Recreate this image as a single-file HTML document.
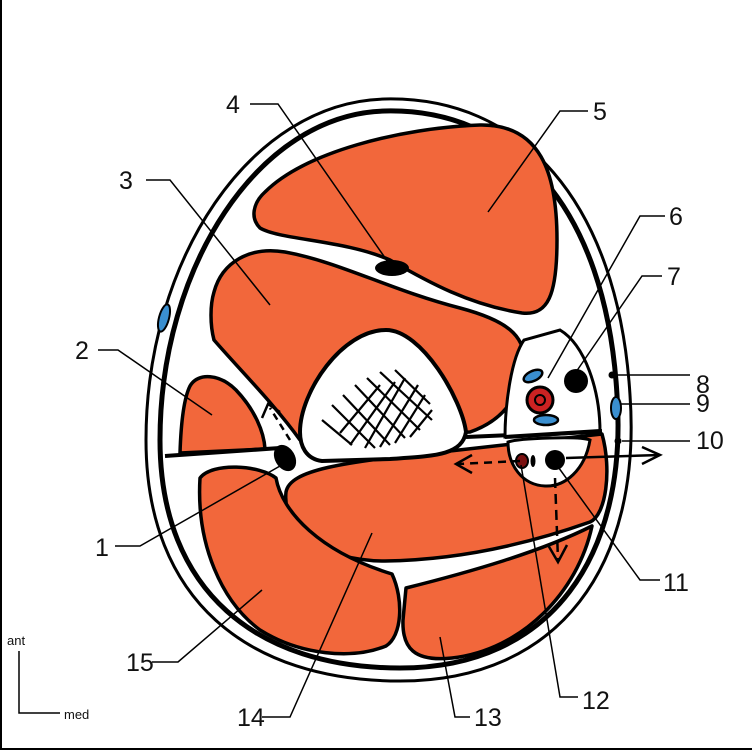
<!DOCTYPE html>
<html><head><meta charset="utf-8"><style>
html,body{margin:0;padding:0;background:#fff}
svg{display:block}
text{font-family:"Liberation Sans",sans-serif;fill:#111}
</style></head><body>
<svg width="752" height="752" viewBox="0 0 752 752" xmlns="http://www.w3.org/2000/svg">
<rect x="0" y="0" width="752" height="752" fill="#fff"/>
<line x1="1" y1="0" x2="1" y2="750" stroke="#000" stroke-width="2"/>
<line x1="0" y1="749" x2="752" y2="749" stroke="#000" stroke-width="2"/>

<path d="M385,99 C520,96 618,200 630,395 C642,565 560,681 400,681 C248,681 146,600 146,440 C146,260 250,102 385,99 Z" fill="#fff" stroke="#000" stroke-width="3"/>
<path d="M385,111 C512,108 606,205 617,395 C628,555 552,668 400,668 C258,668 160,592 160,440 C160,268 258,114 385,111 Z" fill="#fff" stroke="#000" stroke-width="5"/>

<g fill="#f2673b" stroke="#000" stroke-width="3.5" stroke-linejoin="round">
<!-- 5 -->
<path d="M265,192 C305,152 400,128 480,125 C540,124 557,172 557,240 C557,295 548,316 522,313 C470,305 428,282 390,260 C345,240 280,240 260,228 C250,218 253,203 265,192 Z"/>
<!-- 3 -->
<path d="M214,292 C222,262 250,246 285,252 C340,262 390,290 460,308 C505,320 527,335 524,365 C520,395 505,420 470,432 L300,440 C275,405 240,370 214,340 C210,325 210,305 214,292 Z"/>
<!-- 2 -->
<path d="M190,386 C198,372 220,374 236,390 C255,410 264,432 265,449 L180,453 C181,422 184,398 190,386 Z"/>
<!-- 14 -->
<path d="M286,492 C290,470 340,462 450,451 L602,434 C612,470 606,515 590,522 C525,545 455,560 385,561 C322,561 282,530 286,492 Z"/>
<!-- 15 -->
<path d="M200,478 C212,462 260,465 276,478 C282,512 320,552 392,574 C404,600 402,636 386,646 C352,660 300,655 260,630 C222,602 196,545 200,478 Z"/>
<!-- 13 -->
<path d="M406,588 C470,572 540,552 592,526 C578,592 522,650 452,658 C414,662 402,648 403,620 Z"/>
</g>

<path d="M300,432 C300,392 342,330 386,330 C422,330 462,400 466,432 C462,456 432,456 390,459 L322,461 C306,459 300,446 300,432 Z" fill="#fff" stroke="#000" stroke-width="4"/>
<g stroke="#000" stroke-width="2.2">
<line x1="322" y1="420" x2="352" y2="445"/><line x1="332" y1="405" x2="375" y2="448"/><line x1="343" y1="395" x2="390" y2="445"/><line x1="355" y1="385" x2="405" y2="438"/><line x1="367" y1="378" x2="420" y2="430"/><line x1="380" y1="372" x2="432" y2="420"/><line x1="395" y1="370" x2="430" y2="404"/>
<line x1="340" y1="433" x2="380" y2="385"/><line x1="350" y1="445" x2="395" y2="382"/><line x1="365" y1="448" x2="405" y2="378"/><line x1="380" y1="447" x2="418" y2="385"/><line x1="395" y1="443" x2="425" y2="395"/><line x1="410" y1="437" x2="432" y2="410"/>
</g>

<path d="M165,456 L280,448" stroke="#000" stroke-width="4" fill="none"/>
<path d="M466,437 L602,431" stroke="#000" stroke-width="4" fill="none"/>
<path d="M505,437 C505,410 510,360 524,340 L560,330 C585,345 600,390 600,432 Z" fill="#fff" stroke="#000" stroke-width="3"/>
<path d="M508,442 C520,438 580,436 590,440 C585,470 565,487 545,486 C522,485 508,465 508,442 Z" fill="#fff" stroke="#000" stroke-width="3"/>
<path d="M505,437 L600,431" stroke="#000" stroke-width="4"/>

<circle cx="576" cy="381" r="12" fill="#000"/>
<circle cx="540" cy="400" r="13" fill="#c22" stroke="#000" stroke-width="3"/>
<circle cx="540" cy="400" r="5" fill="none" stroke="#000" stroke-width="2"/>
<ellipse cx="533" cy="376" rx="10" ry="5" fill="#3a8fd0" stroke="#000" stroke-width="2.5" transform="rotate(-25 533 376)"/>
<ellipse cx="546" cy="420" rx="12" ry="5" fill="#3a8fd0" stroke="#000" stroke-width="2.5"/>
<ellipse cx="522" cy="461" rx="6" ry="7" fill="#7a1010" stroke="#000" stroke-width="2"/>
<ellipse cx="533" cy="461" rx="2.5" ry="6" fill="#000"/>
<circle cx="555" cy="460" r="10" fill="#000"/>
<ellipse cx="285" cy="458" rx="10" ry="14" fill="#000" transform="rotate(-30 285 458)"/>
<ellipse cx="392" cy="268" rx="17" ry="8" fill="#000"/>
<ellipse cx="164" cy="318" rx="5" ry="14" fill="#3a8fd0" stroke="#000" stroke-width="2" transform="rotate(15 164 318)"/>
<circle cx="612" cy="375" r="3.5" fill="#000"/>
<ellipse cx="616" cy="408" rx="5" ry="11" fill="#3a8fd0" stroke="#000" stroke-width="2"/>
<circle cx="618" cy="441" r="3.5" fill="#000"/>

<g stroke="#000" stroke-width="2.5" fill="none">
<path d="M290,440 L270,408" stroke-dasharray="7,5"/><path d="M262,418 L268,404 L280,412"/>
<path d="M520,461 L458,464" stroke-dasharray="8,6"/><path d="M472,455 L456,464 L472,473"/>
<path d="M566,458 L660,455"/><path d="M642,447 L660,455 L642,464"/>
<path d="M555,478 L558,560" stroke-dasharray="10,6"/><path d="M548,545 L558,562 L567,545"/>
</g>

<g stroke="#000" stroke-width="1.5" fill="none">
<path d="M250,104 L278,104 L388,262"/>
<path d="M588,111 L560,111 L488,212"/>
<path d="M146,180 L170,180 L270,305"/>
<path d="M665,216 L640,216 L548,378"/>
<path d="M662,276 L642,276 L576,372"/>
<path d="M616,375 L690,375"/>
<path d="M621,404 L690,404"/>
<path d="M622,441 L690,441"/>
<path d="M98,350 L118,350 L212,415"/>
<path d="M115,546 L140,546 L280,466"/>
<path d="M660,580 L640,580 L556,464"/>
<path d="M578,697 L560,697 L521,465"/>
<path d="M470,717 L455,717 L440,637"/>
<path d="M262,717 L290,717 L372,533"/>
<path d="M152,662 L178,662 L262,590"/>
</g>

<g font-size="25">
<text x="226" y="113">4</text>
<text x="593" y="120">5</text>
<text x="119" y="189">3</text>
<text x="669" y="225">6</text>
<text x="667" y="285">7</text>
<text x="696" y="393">8</text>
<text x="696" y="412">9</text>
<text x="696" y="449">10</text>
<text x="75" y="359">2</text>
<text x="95" y="556">1</text>
<text x="663" y="591">11</text>
<text x="582" y="709">12</text>
<text x="474" y="726">13</text>
<text x="237" y="726">14</text>
<text x="126" y="671">15</text>
</g>
<text x="7" y="645" font-size="13">ant</text>
<text x="64" y="719" font-size="13">med</text>
<path d="M19,651 L19,713 L60,713" stroke="#000" stroke-width="1.5" fill="none"/>
</svg>
</body></html>
